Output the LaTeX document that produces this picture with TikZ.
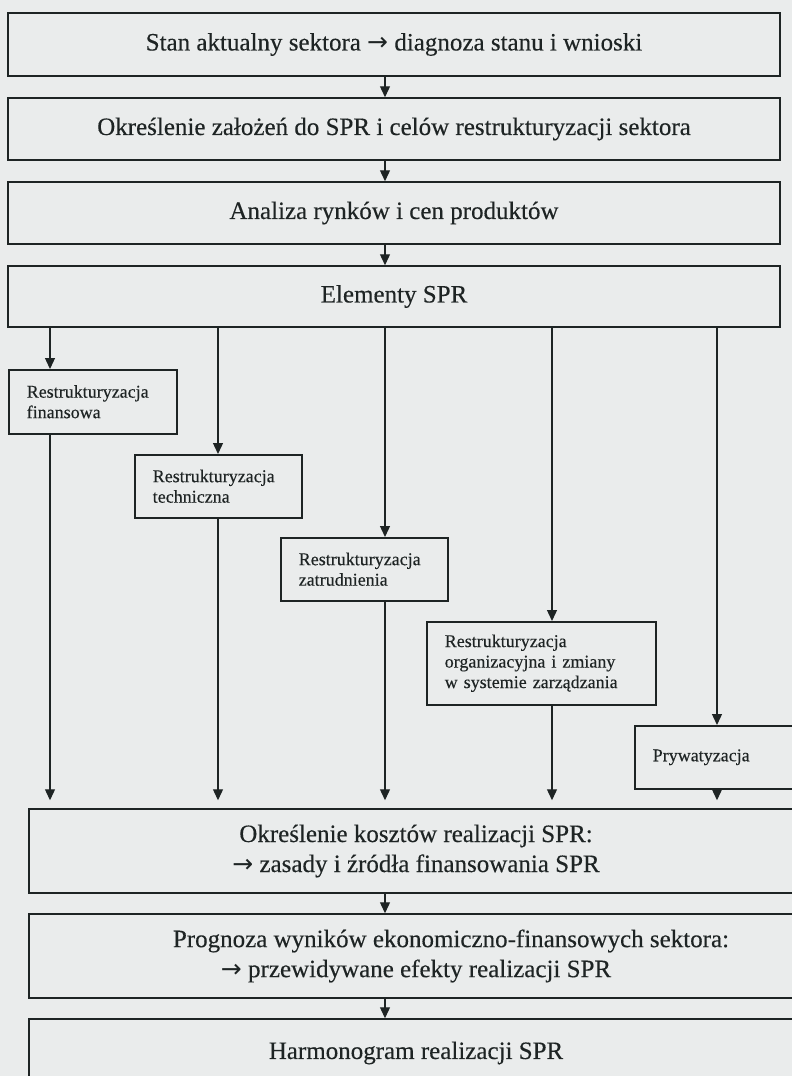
\documentclass[tikz,border=0pt]{standalone}
\usepackage{fontspec}
\setmainfont{Liberation Serif}[FakeBold=0.3]
\newfontfamily\arrowfont{DejaVu Sans}
\newcommand{\ra}{{\arrowfont →}}
\usetikzlibrary{arrows.meta}
\definecolor{paper}{RGB}{234,236,236}
\definecolor{ink}{RGB}{30,36,36}
\begin{document}
\begin{tikzpicture}[x=1pt,y=-1pt,
  bigbox/.style={draw=ink, line width=1.5pt, minimum width=772pt, align=center,
    text=ink, font=\fontsize{25}{30}\selectfont},
  subbox/.style={draw=ink, line width=1.5pt, anchor=north west, align=left,
    inner xsep=18pt, text=ink, font=\fontsize{18}{20.5}\selectfont},
  link/.style={draw=ink, line width=1.3pt},
  arr/.style={link, -{Triangle[length=11pt,width=10pt]}},
  arrgap/.style={arr, shorten >=8pt},
]
\useasboundingbox (0,0) rectangle (792,1076);
\fill[paper] (0,0) rectangle (792,1076);

% main sequence, upper part
\node[bigbox, minimum height=63pt] (b1) at (394,44.5)
  {Stan aktualny sektora \ra{} diagnoza stanu i wnioski};
\node[bigbox, minimum height=62pt] (b2) at (394,129)
  {Określenie założeń do SPR i celów restrukturyzacji sektora};
\node[bigbox, minimum height=62pt] (b3) at (394,213)
  {Analiza rynków i cen produktów};
\node[bigbox, minimum height=61pt] (b4) at (394,296.5)
  {Elementy SPR};

% elements of the programme
\node[subbox, minimum height=64pt, text width=132pt] (fin) at (8,369)
  {Restrukturyzacja\\finansowa};
\node[subbox, minimum height=63pt, text width=131pt] (tech) at (134,454)
  {Restrukturyzacja\\techniczna};
\node[subbox, minimum height=63pt, text width=131pt] (zatr) at (280,537)
  {Restrukturyzacja\\zatrudnienia};
\node[subbox, minimum height=83pt, text width=193pt] (org) at (426,621)
  {Restrukturyzacja\\organizacyjna i zmiany\\w systemie zarządzania};
\node[subbox, minimum height=63pt, text width=131pt] (pryw) at (634,725)
  {Prywatyzacja};

% main sequence, lower part
\node[bigbox, minimum width=774pt, minimum height=84pt] (b5) at (416,851)
  {Określenie kosztów realizacji SPR:\\\ra{} zasady i źródła finansowania SPR};
\node[bigbox, minimum width=774pt, minimum height=84pt] (b6) at (416,956)
  {\hspace*{70pt}Prognoza wyników ekonomiczno-finansowych sektora:\\\ra{} przewidywane efekty realizacji SPR};
\node[bigbox, minimum width=774pt, minimum height=68pt] (b7) at (416,1053)
  {Harmonogram realizacji SPR};

% connector columns
\coordinate (c1) at (50,0);
\coordinate (c2) at (218,0);
\coordinate (c3) at (385,0);
\coordinate (c4) at (552,0);
\coordinate (c5) at (717,0);

\draw[arr] (b1.south -| c3) -- (b2.north -| c3);
\draw[arr] (b2.south -| c3) -- (b3.north -| c3);
\draw[arr] (b3.south -| c3) -- (b4.north -| c3);

\draw[arr] (b4.south -| c1) -- (fin.north -| c1);
\draw[arr] (b4.south -| c2) -- (tech.north -| c2);
\draw[arr] (b4.south -| c3) -- (zatr.north -| c3);
\draw[arr] (b4.south -| c4) -- (org.north -| c4);
\draw[arr] (b4.south -| c5) -- (pryw.north -| c5);

\draw[arrgap] (fin.south -| c1) -- (b5.north -| c1);
\draw[arrgap] (tech.south -| c2) -- (b5.north -| c2);
\draw[arrgap] (zatr.south -| c3) -- (b5.north -| c3);
\draw[arrgap] (org.south -| c4) -- (b5.north -| c4);
\draw[arrgap] (pryw.south -| c5) -- (b5.north -| c5);

\draw[arr] (b5.south -| c3) -- (b6.north -| c3);
\draw[arr] (b6.south -| c3) -- (b7.north -| c3);
\end{tikzpicture}
\end{document}
